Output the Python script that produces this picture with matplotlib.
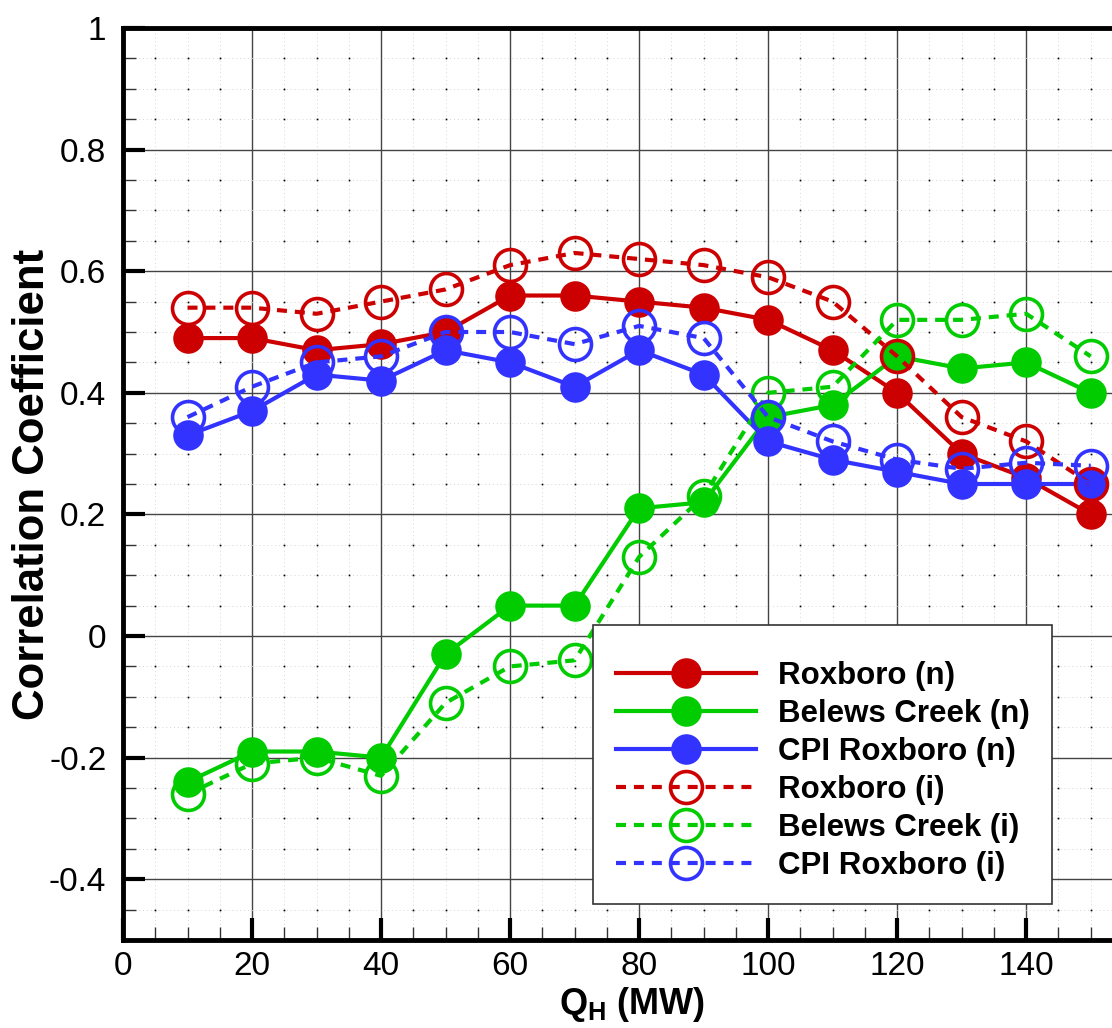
import numpy as np
import matplotlib
matplotlib.use("Agg")
import matplotlib.pyplot as plt
from matplotlib.ticker import MultipleLocator, FuncFormatter

plt.rcParams['font.family'] = ['Liberation Sans', 'DejaVu Sans']
plt.rcParams['axes.unicode_minus'] = False
plt.rcParams['mathtext.fontset'] = 'custom'
plt.rcParams['mathtext.rm'] = 'Liberation Sans'
plt.rcParams['mathtext.bf'] = 'Liberation Sans:bold'

# heat load (MW)
q = [10, 20, 30, 40, 50, 60, 70, 80, 90, 100, 110, 120, 130, 140, 150]

# correlation coefficients, (n) series
rox_n = [0.49, 0.49, 0.47, 0.48, 0.50, 0.56, 0.56, 0.55, 0.54, 0.52, 0.47, 0.40, 0.30, 0.26, 0.20]
bel_n = [-0.24, -0.19, -0.19, -0.20, -0.03, 0.05, 0.05, 0.21, 0.22, 0.36, 0.38, 0.46, 0.44, 0.45, 0.40]
cpi_n = [0.33, 0.37, 0.43, 0.42, 0.47, 0.45, 0.41, 0.47, 0.43, 0.32, 0.29, 0.27, 0.25, 0.25, 0.25]

# (i) series
rox_i = [0.54, 0.54, 0.53, 0.55, 0.57, 0.61, 0.63, 0.62, 0.61, 0.59, 0.55, 0.46, 0.36, 0.32, 0.25]
bel_i = [-0.26, -0.21, -0.20, -0.23, -0.11, -0.05, -0.04, 0.13, 0.23, 0.40, 0.41, 0.52, 0.52, 0.53, 0.46]
cpi_i = [0.36, 0.41, 0.45, 0.46, 0.50, 0.50, 0.48, 0.51, 0.49, 0.36, 0.32, 0.29, 0.275, 0.285, 0.28]

names = ['Roxboro', 'Belews Creek', 'CPI Roxboro']
colors = ['#CC0000', '#00CC00', '#3333FF']

fig = plt.figure(figsize=(11.12, 10.28), dpi=100)
ax = fig.add_axes([123 / 1112, 88 / 1028, 989 / 1112, 912 / 1028])

ax.set_xlim(0, 153.3)
ax.set_ylim(-0.5, 1.0)

# solid lines with filled dots
for ys, name, c in zip([rox_n, bel_n, cpi_n], names, colors):
    ax.plot(q, ys, '-', color=c, lw=3.0, marker='o', ms=22, mew=0,
            label=f'{name} (n)', zorder=3)

# dashed lines with open circles
for ys, name, c in zip([rox_i, bel_i, cpi_i], names, colors):
    ax.plot(q, ys, color=c, lw=3.0, dashes=(2.4, 1.9), marker='o', ms=23,
            mfc='none', mec=c, mew=2.6, label=f'{name} (i)', zorder=4)

# ticks
ax.xaxis.set_major_locator(MultipleLocator(20))
ax.xaxis.set_minor_locator(MultipleLocator(5))
ax.yaxis.set_major_locator(MultipleLocator(0.2))
ax.yaxis.set_minor_locator(MultipleLocator(0.05))
ax.yaxis.set_major_formatter(FuncFormatter(lambda v, p: f'{v:g}' if abs(v) > 1e-9 else '0'))
ax.xaxis.set_major_formatter(FuncFormatter(lambda v, p: f'{v:g}'))

ax.tick_params(which='major', direction='in', length=16, width=3, labelsize=24,
               top=False, right=False, color='black')
ax.tick_params(axis='y', which='major', pad=12)
ax.tick_params(axis='x', which='major', pad=8)
ax.tick_params(which='minor', direction='in', length=9.5, width=1.0,
               top=False, right=False, color='#333333')

# grid
ax.grid(which='major', color='#444444', lw=1.0, zorder=1)
ax.grid(which='minor', color='#d6d6d6', lw=0.7, linestyle=(0, (1, 3)), zorder=1)
ax.set_axisbelow(True)
mx, my = np.meshgrid(ax.xaxis.get_minorticklocs(), ax.yaxis.get_minorticklocs())
ax.plot(mx.ravel(), my.ravel(), ls='none', marker='s', ms=1.2, mew=0, color='black', zorder=1)

for side in ['left', 'bottom', 'top']:
    ax.spines[side].set_linewidth(3.5)
ax.spines['right'].set_visible(False)

ax.set_ylabel('Correlation Coefficient', fontsize=31.5, fontweight='bold')
ax.yaxis.set_label_coords(-0.071, 0.5)
ax.set_xlabel(r'$\mathbf{Q_H}$ (MW)', fontsize=26, fontweight='bold')
ax.xaxis.set_label_coords(0.515, -0.049)

# a tiny blank title gives the extra room above the first row, as in the original
leg = ax.legend(loc='upper left', bbox_to_anchor=(593 / 1112, 1 - 625 / 1028),
                bbox_transform=fig.transFigure, borderaxespad=0,
                prop={'weight': 'bold', 'size': 22.5}, handlelength=4.5,
                handletextpad=0.7, labelspacing=0.26, borderpad=0.72,
                title=' ', title_fontsize=4,
                fancybox=False, framealpha=1, edgecolor='#333333')
leg.get_frame().set_linewidth(1.2)
leg.set_zorder(10)

fig.savefig('out.png', dpi=100)
